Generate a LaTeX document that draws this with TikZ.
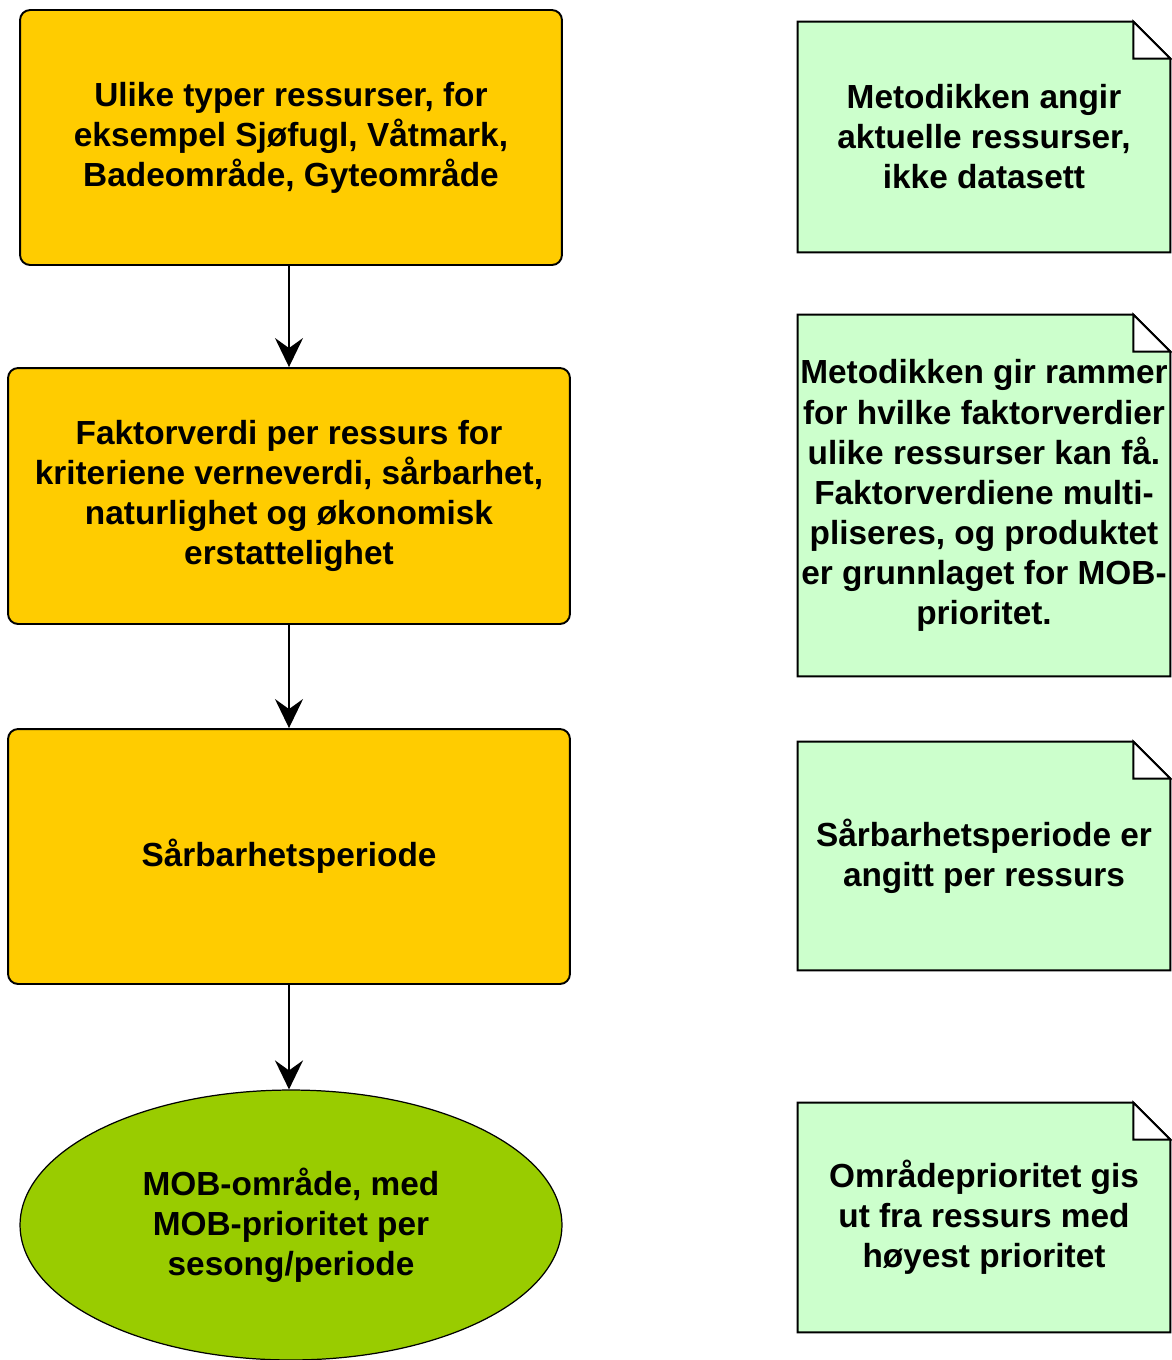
\documentclass[tikz,border=0pt]{standalone}
\usepackage{fontspec}
\setmainfont{Liberation Sans}
\usepackage{xcolor}
\usepackage{tikz}
\usetikzlibrary{arrows.meta,positioning,calc,shapes.geometric,backgrounds}
\definecolor{boxorange}{HTML}{FFCC00}
\definecolor{mobgreen}{HTML}{99CC00}
\definecolor{notegreen}{HTML}{CCFFCC}
\newcommand{\flowfont}{\bfseries\fontsize{19}{22.8}\selectfont}
\newcommand{\drawnote}[1]{%
  \begin{scope}[on background layer]
    \draw[notefold,fill=notegreen] (#1.south west) -- (#1.north west)
      -- ($(#1.north east)+(-0.74cm,0cm)$) -- ($(#1.north east)+(0cm,-0.74cm)$)
      -- (#1.south east) -- cycle;
    \draw[notefold,fill=white] ($(#1.north east)+(-0.74cm,0cm)$)
      -- ($(#1.north east)+(-0.74cm,-0.74cm)$) -- ($(#1.north east)+(0cm,-0.74cm)$) -- cycle;
  \end{scope}}

\begin{document}
\begin{tikzpicture}[>={Stealth[length=0.58cm,width=0.56cm,inset=0.2cm]},
  x=0.02cm, y=-0.02cm,
  stepbox/.style={draw, line width=1.1pt, fill=boxorange, rounded corners=0.2cm,
    align=center, font=\flowfont, inner sep=0pt},
  mobell/.style={draw, ellipse, line width=0.7pt, fill=mobgreen,
    align=center, font=\flowfont, inner sep=0pt,
    minimum width=10.84cm, minimum height=5.4cm},
  notebox/.style={align=center, font=\flowfont, inner sep=0pt,
    minimum width=7.44cm},
  notefold/.style={line width=1.1pt},
  flow/.style={->, line width=1.2pt}]
  \useasboundingbox (0,0) rectangle (1171,1360);

  % flow on the left
  \node[stepbox, minimum width=10.84cm, minimum height=5.1cm] (typer) at (291,137.5)
    {Ulike typer ressurser, for\\eksempel Sjøfugl, Våtmark,\\Badeområde, Gyteområde};
  \node[stepbox, minimum width=11.24cm, minimum height=5.12cm] (faktor) at (289,496)
    {Faktorverdi per ressurs for\\kriteriene verneverdi, sårbarhet,\\naturlighet og økonomisk\\erstattelighet};
  \node[stepbox, minimum width=11.24cm, minimum height=5.1cm] (periode) at (289,856.5)
    {Sårbarhetsperiode};
  \node[mobell] (mob) at (291,1225)
    {MOB-område, med\\MOB-prioritet per\\sesong/periode};

  \draw[flow] (typer.south -| faktor) -- (faktor.north);
  \draw[flow] (faktor) -- (periode);
  \draw[flow] (periode.south) -- (periode.south |- mob.north);

  % notes on the right
  \node[notebox, minimum height=4.6cm] (note1) at (984,137)
    {Metodikken angir\\aktuelle ressurser,\\ikke datasett};
  \node[notebox, minimum height=7.22cm] (note2) at (984,495.5)
    {Metodikken gir rammer\\for hvilke faktorverdier\\ulike ressurser kan få.\\Faktorverdiene multi-\\pliseres, og produktet\\er grunnlaget for MOB-\\prioritet.};
  \node[notebox, minimum height=4.56cm] (note3) at (984,856)
    {Sårbarhetsperiode er\\angitt per ressurs};
  \node[notebox, minimum height=4.58cm] (note4) at (984,1217.5)
    {Områdeprioritet gis\\ut fra ressurs med\\høyest prioritet};
  \drawnote{note1}
  \drawnote{note2}
  \drawnote{note3}
  \drawnote{note4}
\end{tikzpicture}
\end{document}
